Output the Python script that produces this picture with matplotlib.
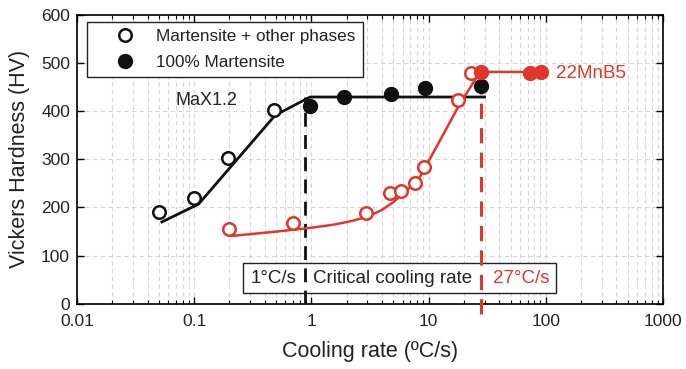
import matplotlib
matplotlib.use("Agg")
import matplotlib.pyplot as plt
from matplotlib.patches import Rectangle
from matplotlib.lines import Line2D
from matplotlib.ticker import LogLocator, NullFormatter, FixedLocator

plt.rcParams['font.family'] = ['Liberation Sans', 'DejaVu Sans']

RED = '#e2362b'

# MaX1.2 data
max_open_x = [0.05, 0.1, 0.195, 0.48]
max_open_y = [190, 220, 303, 403]
max_full_x = [0.97, 1.9, 4.8, 9.3, 28]
max_full_y = [410, 429, 436, 448, 452]
max_line_x = [0.053, 0.109, 0.49, 0.975, 30]
max_line_y = [170, 207, 391, 429, 429]

# 22MnB5 data
mn_open_x = [0.2, 0.7, 2.9, 4.7, 5.8, 7.6, 9.1, 17.8, 23]
mn_open_y = [155, 168, 188, 230, 235, 251, 283, 422, 478]
mn_full_x = [28, 73, 91]
mn_full_y = [481, 478, 481]
mn_line_x = [0.21, 0.5, 1, 1.6, 2.3, 3.16, 4.0, 5.0, 6.08, 7.2, 8.45, 11.7, 18.5, 27.5, 92]
mn_line_y = [141, 150, 158, 165, 173, 183, 195, 211, 229, 245, 264, 326, 415, 481, 481]

crit_max = 0.885
crit_mn = 28

x_ticks = [0.01, 0.1, 1, 10, 100, 1000]
x_ticklabels = ['0.01', '0.1', '1', '10', '100', '1000']
y_ticks = [0, 100, 200, 300, 400, 500, 600]

fig = plt.figure(figsize=(6.86, 3.69), dpi=100)
ax = fig.add_axes([0.1122, 0.1762, 0.8543, 0.7845])
ax.set_xscale('log')
ax.set_xlim(0.01, 1000)
ax.set_ylim(0, 600)

ax.grid(True, which='major', axis='both', color='#d6d6d6', linestyle=(0, (4, 3)), linewidth=0.8)
ax.grid(True, which='minor', axis='x', color='#d6d6d6', linestyle=(0, (4, 3)), linewidth=0.8)
ax.set_axisbelow(True)

ax.xaxis.set_major_locator(FixedLocator(x_ticks))
ax.set_xticklabels(x_ticklabels)
ax.xaxis.set_minor_locator(LogLocator(base=10, subs=range(2, 10), numticks=20))
ax.xaxis.set_minor_formatter(NullFormatter())
ax.set_yticks(y_ticks)
ax.tick_params(which='both', direction='in', top=True, right=True, labelsize=12.5,
               labelcolor='#222222')
ax.tick_params(axis='x', which='major', pad=7)
ax.tick_params(axis='y', which='major', pad=5)
ax.tick_params(which='major', length=5, width=1)
ax.tick_params(which='minor', length=3, width=0.8)
for s in ax.spines.values():
    s.set_linewidth(1.2)

# annotation box (white, below dashed lines)
ax.add_patch(Rectangle((0.26, 22), 121.6 - 0.26, 63.5, facecolor='white',
                       edgecolor='#222222', linewidth=1.0, zorder=3))
ax.text(0.48, 52, '1°C/s', ha='center', va='center', fontsize=13.5, color='#222222', zorder=4)
ax.text(4.9, 52, 'Critical cooling rate', ha='center', va='center', fontsize=13.5, color='#222222', zorder=4)
ax.text(62, 52, '27°C/s', ha='center', va='center', fontsize=13.5, color=RED, zorder=4)

# critical dashed lines
ax.plot([crit_max, crit_max], [0, 429], color='#111111', linestyle=(0, (5, 3)), linewidth=2, zorder=5)
ax.plot([crit_mn, crit_mn], [-20, 481], color=RED, linestyle=(0, (5, 3)), linewidth=2.2, zorder=5, clip_on=False)

# lines
ax.plot(max_line_x, max_line_y, color='#111111', linewidth=2.0, zorder=6)
ax.plot(mn_line_x, mn_line_y, color=RED, linewidth=1.8, zorder=6)

# markers
ax.plot(max_open_x, max_open_y, 'o', markersize=9, markerfacecolor='white',
        markeredgecolor='#111111', markeredgewidth=1.8, zorder=7, linestyle='none')
ax.plot(max_full_x, max_full_y, 'o', markersize=10, color='#111111', zorder=7, linestyle='none')
ax.plot(mn_open_x, mn_open_y, 'o', markersize=9, markerfacecolor='white',
        markeredgecolor=RED, markeredgewidth=1.8, zorder=7, linestyle='none')
ax.plot(mn_full_x, mn_full_y, 'o', markersize=10, color=RED, zorder=7, linestyle='none')

ax.text(0.127, 422, 'MaX1.2', ha='center', va='center', fontsize=13, color='#222222')
ax.text(122, 477, '22MnB5', ha='left', va='center', fontsize=13.5, color=RED)

handles = [Line2D([], [], marker='o', linestyle='none', markersize=9, markerfacecolor='white',
                  markeredgecolor='#111111', markeredgewidth=1.8),
           Line2D([], [], marker='o', linestyle='none', markersize=10, color='#111111')]
leg = ax.legend(handles, ['Martensite + other phases', '100% Martensite'],
                loc='upper left', bbox_to_anchor=(0.017, 0.975), fontsize=12.3,
                frameon=True, fancybox=False, edgecolor='#222222', framealpha=1,
                handletextpad=0.1, borderpad=0.45, labelspacing=0.6, handlelength=3.5,
                borderaxespad=0.0)
for t in leg.get_texts():
    t.set_color('#222222')
leg.get_frame().set_linewidth(1.0)
leg.set_zorder(10)

ax.set_xlabel('Cooling rate (ºC/s)', fontsize=15.5, color='#222222', labelpad=9)
ax.set_ylabel('Vickers Hardness (HV)', fontsize=15.5, color='#222222', labelpad=8)

fig.savefig('out.png', dpi=100)
